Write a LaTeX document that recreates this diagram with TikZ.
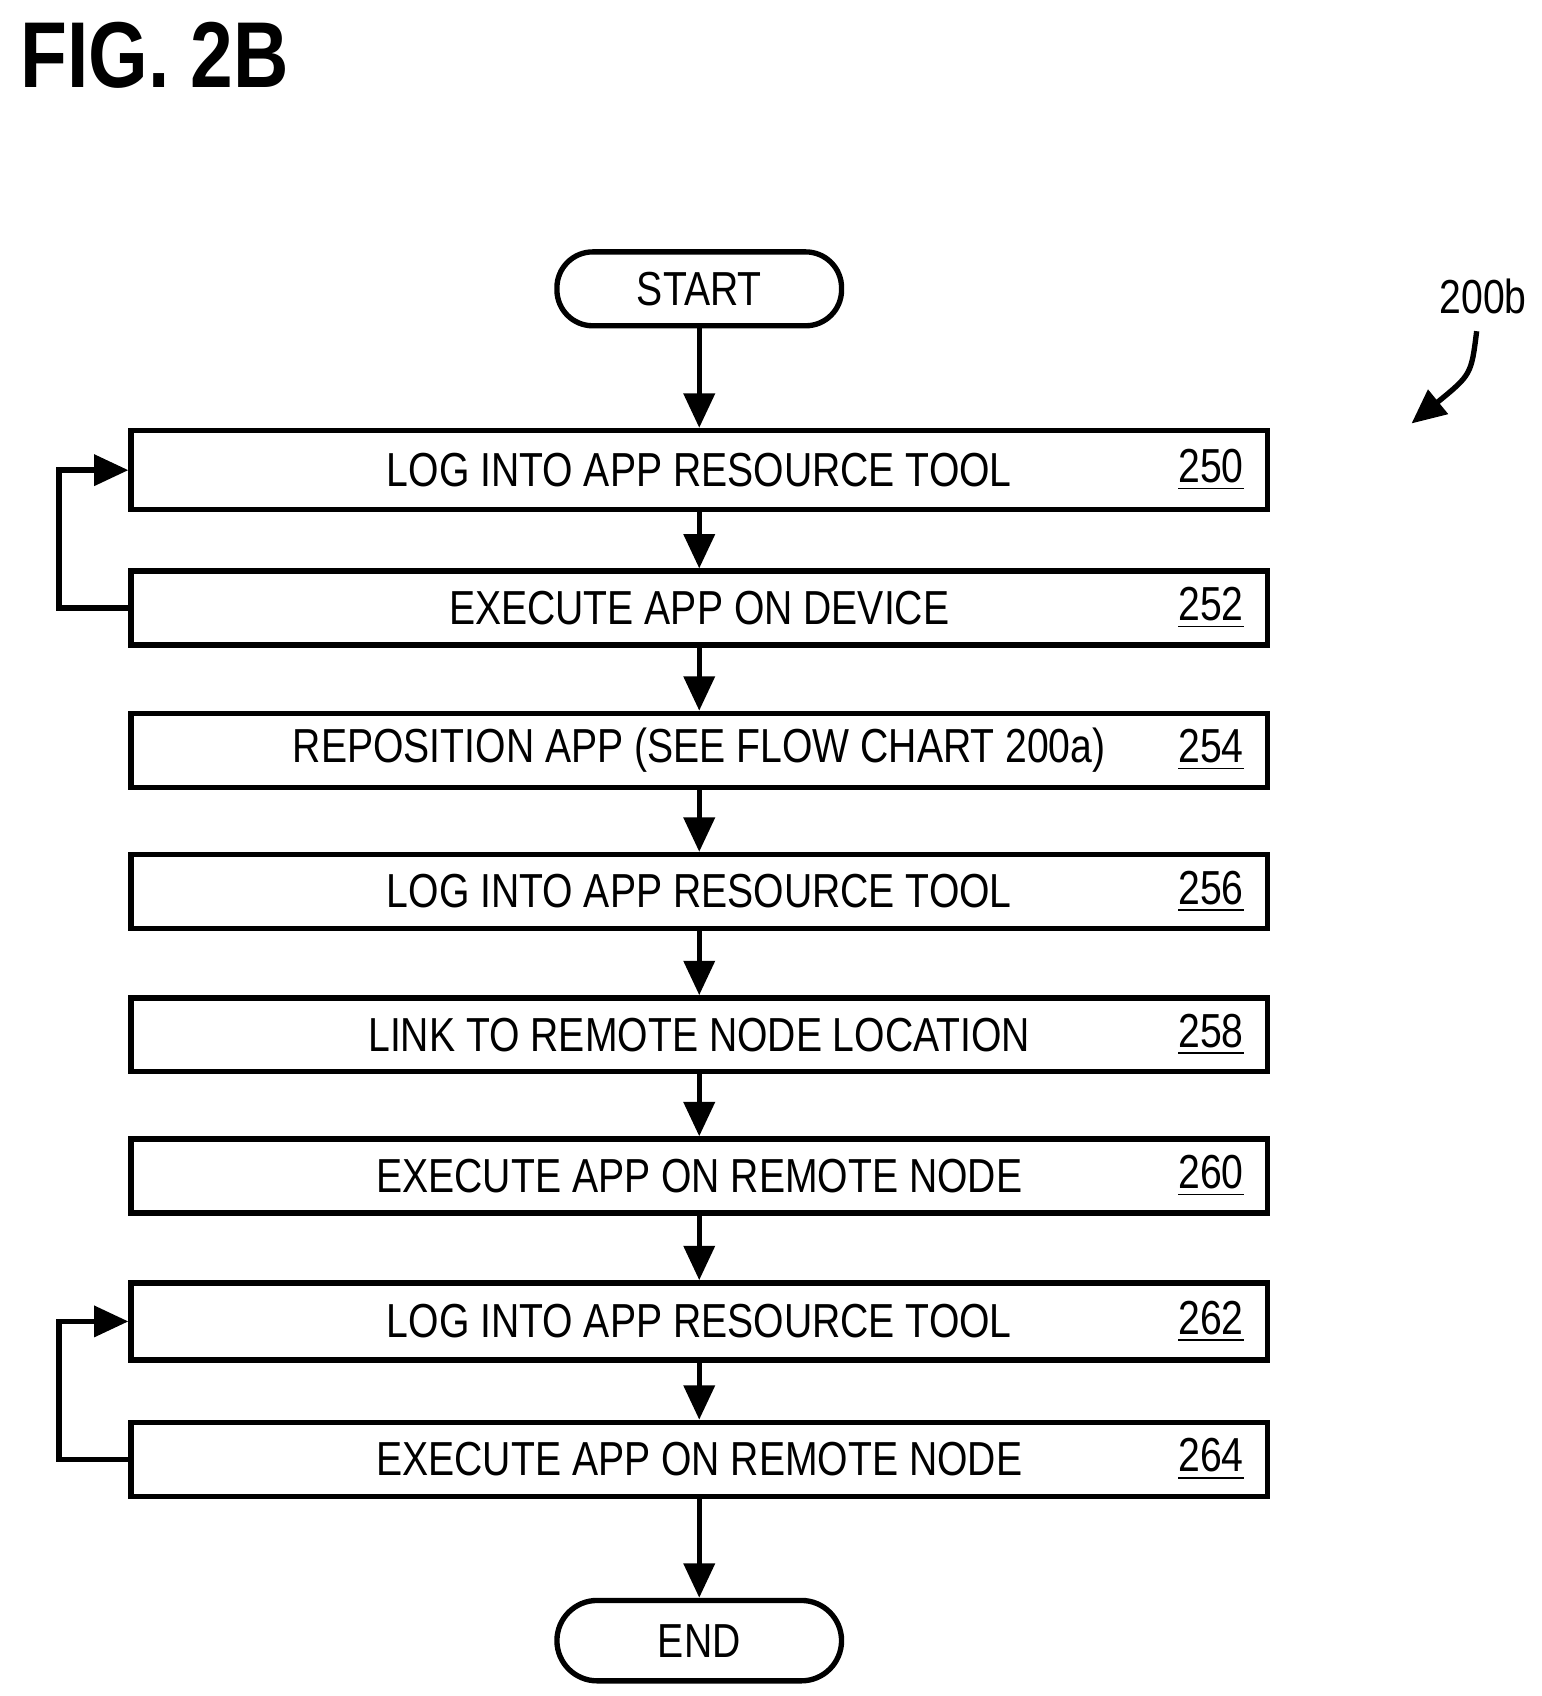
\documentclass[tikz,border=0pt]{standalone}
\usepackage{fontspec}
\setmainfont{Liberation Sans}[FakeStretch=0.82]
\usetikzlibrary{positioning,arrows.meta}

\begin{document}
\begin{tikzpicture}[x=0.01cm,y=-0.01cm,
    stepbox/.style={rectangle,draw=black,line width=1.4pt,minimum width=10.46cm,minimum height=0.68cm,font=\fontsize{12.5}{14}\selectfont},
    term/.style={rectangle,rounded corners=0.33cm,draw=black,line width=1.4pt,minimum width=2.62cm,minimum height=0.68cm,font=\fontsize{12.5}{14}\selectfont},
    ref/.style={font=\fontsize{12.5}{14}\selectfont},
    flow/.style={line width=1.4pt,-{Triangle[length=9pt,width=8pt]}}]
  \useasboundingbox (0,0) rectangle (1420,1562);

  \node[anchor=north west,font=\bfseries\fontsize{24.5}{28}\selectfont,inner sep=0pt] (fig) at (18,20) {FIG. 2B};

  % terminals and steps
  \node[term] (start) at (644,266) {START};
  \node[stepbox,minimum height=0.73cm] (s250) at (644,433) {LOG INTO APP RESOURCE TOOL};
  \node[stepbox] (s252) at (644,560) {EXECUTE APP ON DEVICE};
  \node[stepbox] (s254) at (644,691) {REPOSITION APP (SEE FLOW CHART 200a)};
  \node[stepbox] (s256) at (644,821) {LOG INTO APP RESOURCE TOOL};
  \node[stepbox] (s258) at (644,953) {LINK TO REMOTE NODE LOCATION};
  \node[stepbox] (s260) at (644,1083) {EXECUTE APP ON REMOTE NODE};
  \node[stepbox,minimum height=0.71cm] (s262) at (644,1217) {LOG INTO APP RESOURCE TOOL};
  \node[stepbox] (s264) at (644,1344) {EXECUTE APP ON REMOTE NODE};
  \node[term,minimum height=0.74cm,rounded corners=0.37cm] (end) at (644,1511) {END};

  % reference numerals
  \foreach \n in {250,252,254,256,258,260,262,264}
    \node[ref,anchor=east] (r\n) at ([xshift=-0.12cm]s\n.east) {\underline{\n}};

  % main flow
  \draw[flow] (start) -- (s250);
  \draw[flow] (s250) -- (s252);
  \draw[flow] (s252) -- (s254);
  \draw[flow] (s254) -- (s256);
  \draw[flow] (s256) -- (s258);
  \draw[flow] (s258) -- (s260);
  \draw[flow] (s260) -- (s262);
  \draw[flow] (s262) -- (s264);
  \draw[flow] (s264) -- (end);

  % loops back
  \draw[flow] (s252.west) -- ++(-64,0) |- (s250.west);
  \draw[flow] (s264.west) -- ++(-64,0) |- (s262.west);

  % figure label
  \node[ref] (lbl) at (1366,273) {200b};
  \coordinate (tip) at (1300,390);
  \draw[flow] (1360,305) .. controls (1355,345) .. (tip);
\end{tikzpicture}
\end{document}
